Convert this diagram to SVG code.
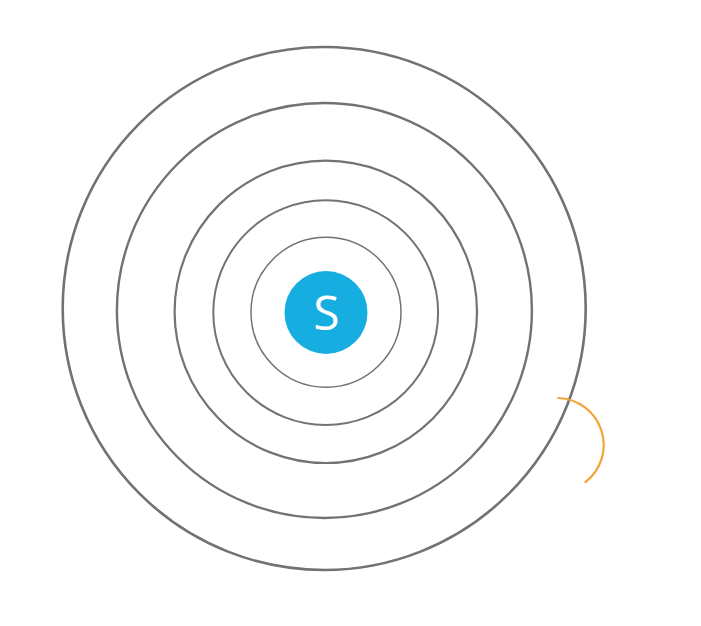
<svg xmlns="http://www.w3.org/2000/svg" width="701" height="626" viewBox="0 0 701 626">
<style>
.ring{fill:none;stroke:#717276}
.lbl{font-family:"Open Sans","Liberation Sans",sans-serif;font-size:48px;fill:#ffffff;text-anchor:middle}
</style>
<rect width="701" height="626" fill="#ffffff"/>
<g id="rings">
<circle id="ring5" class="ring" cx="324.2" cy="308.5" r="261.5" stroke-width="2.6"/>
<circle id="ring4" class="ring" cx="324.4" cy="310.5" r="207.5" stroke-width="2.4"/>
<circle id="ring3" class="ring" cx="325.8" cy="311.8" r="151.2" stroke-width="2.2"/>
<circle id="ring2" class="ring" cx="325.7" cy="312.6" r="112.4" stroke-width="2"/>
<circle id="ring1" class="ring" cx="326" cy="312.2" r="75" stroke-width="1.5"/>
</g>
<g id="source">
<circle cx="326" cy="312.5" r="41.5" fill="#16ade1"/>
<text class="lbl" x="326.5" y="330">S</text>
</g>
<g id="connectors">
<path d="M558.3,398 A47,47 0 0 1 585.4,482.2" fill="none" stroke="#f2a436" stroke-width="2.2" stroke-linecap="round"/>
</g>
</svg>
